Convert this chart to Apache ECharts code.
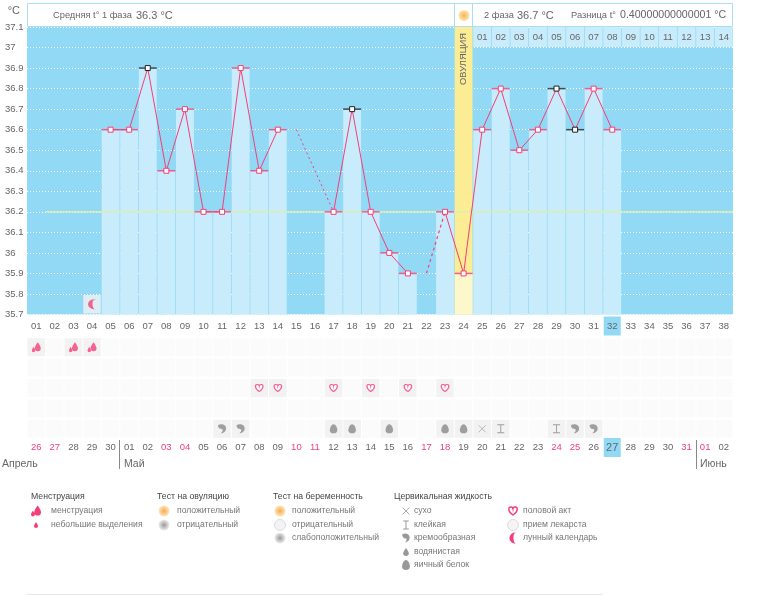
<!DOCTYPE html>
<html>
<head>
<meta charset="utf-8">
<style>
html, body { margin: 0; padding: 0; background: #fff; }
#chart { width: 770px; height: 595px; }
</style>
<script src="https://cdn.jsdelivr.net/npm/echarts@6/dist/echarts.min.js"></script>
</head>
<body>
<div id="chart"></div>
<script>
const FONT = '"Liberation Sans", sans-serif';
const SKY = '#92d9f6';
const BAR = '#c9ecfc';
const PINK = '#f43f76';
const DARK = '#222222';
const TXT = '#666666';

// cycle days
const days = ['01','02','03','04','05','06','07','08','09','10','11','12','13','14','15','16','17','18','19',
    '20','21','22','23','24','25','26','27','28','29','30','31','32','33','34','35','36','37','38'];
const temps = [null,null,null,null,36.6,36.6,36.9,36.4,36.7,36.2,36.2,36.9,36.4,36.6,null,null,36.2,36.7,36.2,
    36.0,35.9,null,36.2,35.9,36.6,36.8,36.5,36.6,36.8,36.6,36.8,36.6,null,null,null,null,null,null];
const blackDays = ['07','18','29','30'];
const missedA = [['15',36.6],['17',36.2]];
const missedB = [['22',35.9],['23',36.2]];
const coverLine = [[1,36.2],[38,36.2]];
const ovulationDay = '24';
const todayDay = '32';
const moonDay = '04';
const secondPhase = ['01','02','03','04','05','06','07','08','09','10','11','12','13','14'];

// calendar dates under the chart
const dates = ['26','27','28','29','30','01','02','03','04','05','06','07','08','09','10','11','12','13','14',
    '15','16','17','18','19','20','21','22','23','24','25','26','27','28','29','30','31','01','02'];
const redIdx = [0,1,7,8,14,15,21,22,28,29,35,36];

// event rows
const rows = ['mens','test','sex','pill','fluid'];
const mensDays = ['01','03','04'];
const sexDays = ['13','14','17','19','21','23'];
const creamDays = ['11','12','30','31'];
const eggDays = ['17','18','20','23','24'];
const dryDays = ['25'];
const stickyDays = ['26','29'];

const P = {
    mens: 'M15 1C15 1 8 10 8 15a7 7 0 0 0 14 0C22 10 15 1 15 1Z M5 12C5 12 1 17 1 20a4 4 0 0 0 8 0C9 17 5 12 5 12Z',
    drop: 'M12 2C12 2 4 12 4 17a8 8 0 0 0 16 0C20 12 12 2 12 2Z',
    heart: 'M12 21C12 21 2 14 2 8a5 5 0 0 1 10-2 5 5 0 0 1 10 2C22 14 12 21 12 21Z',
    cream: 'M4 4C10 0 22 2 22 12C22 19 16 23 10 24C14 20 15 17 14 14C9 15 3 11 4 4Z',
    egg: 'M12 1C7 1 3 10 3 16a9 8 0 0 0 18 0C21 10 17 1 12 1Z',
    dry: 'M3 3L21 21M21 3L3 21',
    sticky: 'M5 2H19M12 2V22M5 22H19',
    moon: 'M16 1A11.5 11.5 0 1 0 16 23A5 11.5 0 1 1 16 1Z'
};

const legendGroups = [
    { title: 'Менструация', x: 31, iconX: 36, textX: 51, items: [['менструация','mens'],['небольшие выделения','drop']] },
    { title: 'Тест на овуляцию', x: 157, iconX: 164, textX: 177, items: [['положительный','sun'],['отрицательный','grey']] },
    { title: 'Тест на беременность', x: 273, iconX: 280, textX: 292, items: [['положительный','sun'],['отрицательный','blank'],['слабоположительный','grey']] },
    { title: 'Цервикальная жидкость', x: 394, iconX: 406, textX: 414, items: [['сухо','dry'],['клейкая','sticky'],['кремообразная','cream'],['водянистая','drop2'],['яичный белок','egg']] },
    { title: '', x: 508, iconX: 513, textX: 523, items: [['половой акт','heart'],['прием лекарста','blank'],['лунный календарь','moon']] }
];
const legendRows = [511, 525, 538, 552, 565];

function rect(x, y, w, h, fill, stroke) {
    return { type: 'rect', shape: { x: x, y: y, width: w, height: h }, style: { fill: fill, stroke: stroke || null, lineWidth: 1 }, silent: true };
}
function text(t, x, y, size, color, extra) {
    return Object.assign({ type: 'text', silent: true, style: { text: t, x: x, y: y, font: size + 'px ' + FONT, fill: color, verticalAlign: 'middle' } }, extra || {});
}
function line(x1, y1, x2, y2, color) {
    return { type: 'line', shape: { x1: x1, y1: y1, x2: x2, y2: y2 }, style: { stroke: color, lineWidth: 1 }, silent: true };
}
function sunFill(c1, c2) {
    return new echarts.graphic.RadialGradient(0.5, 0.5, 0.5, [{ offset: 0, color: c1 }, { offset: 1, color: c2 }]);
}

// legend icons
function legendIcon(kind, x, y) {
    const path = (d, w, h, style) => ({ type: 'path', shape: { pathData: d, x: x - w / 2, y: y - h / 2, width: w, height: h }, style: style });
    if (kind === 'mens') return path(P.mens, 10, 11, { fill: PINK });
    if (kind === 'drop') return path(P.drop, 4, 6, { fill: PINK });
    if (kind === 'drop2') return path(P.drop, 6, 8, { fill: '#999' });
    if (kind === 'heart') return path(P.heart, 9, 8, { fill: '#fff', stroke: PINK, lineWidth: 1.5 });
    if (kind === 'cream') return path(P.cream, 8, 9, { fill: '#999' });
    if (kind === 'egg') return path(P.egg, 8, 10, { fill: '#999' });
    if (kind === 'dry') return path(P.dry, 7, 7, { fill: 'none', stroke: '#aaa', lineWidth: 1 });
    if (kind === 'sticky') return path(P.sticky, 7, 8, { fill: 'none', stroke: '#999', lineWidth: 1 });
    if (kind === 'moon') return path(P.moon, 9, 11, { fill: PINK });
    if (kind === 'sun') return { type: 'circle', shape: { cx: x, cy: y, r: 5.5 }, style: { fill: sunFill('#f8a94e', '#fde9bd') } };
    if (kind === 'grey') return { type: 'circle', shape: { cx: x, cy: y, r: 5.5 }, style: { fill: sunFill('#999999', '#eeeeee') } };
    return { type: 'circle', shape: { cx: x, cy: y, r: 5.5 }, style: { fill: '#f4f4f4', stroke: '#ddd', lineWidth: 1 } };
}
const legendEls = [];
legendGroups.forEach(g => {
    if (g.title) legendEls.push(text(g.title, g.x, 497, 8.7, '#444'));
    g.items.forEach((it, i) => {
        legendEls.push(legendIcon(it[1], g.iconX, legendRows[i]));
        legendEls.push(text(it[0], g.textX, legendRows[i], 8.6, '#777'));
    });
});

const headerEls = [
    rect(27.5, 3.5, 705, 23, '#fff', '#a9dff5'),
    line(454.5, 3, 454.5, 26, '#a9dff5'),
    line(472.5, 3, 472.5, 26, '#a9dff5'),
    { type: 'circle', silent: true, shape: { cx: 464, cy: 15.5, r: 5.5 }, style: { fill: sunFill('#f8b45a', '#fbe7b0') } },
    text('Средняя t° 1 фаза', 53, 15.5, 9.3, TXT),
    text('36.3 °C', 136, 15.5, 11, TXT),
    text('2 фаза', 484, 15.5, 9.3, TXT),
    text('36.7 °C', 517, 15.5, 11, TXT),
    text('Разница t°', 571, 15.5, 9.3, TXT),
    text('0.40000000000001 °C', 620, 15.5, 10.6, TXT),
    { type: 'text', silent: true, x: 463.5, y: 59, rotation: Math.PI / 2, z: 20,
      style: { text: 'ОВУЛЯЦИЯ', font: '9.3px ' + FONT, fill: '#666', align: 'center', verticalAlign: 'middle' } },
    text('Апрель', 2, 464, 10.5, TXT),
    text('Май', 124, 464, 10.5, TXT),
    text('Июнь', 700, 464, 10.5, TXT),
    line(119.5, 440, 119.5, 469, '#888'),
    line(696.5, 440, 696.5, 469, '#888'),
    line(27, 594.5, 603, 594.5, '#e6e6e6')
];

const bigCells = [];
days.forEach(d => rows.forEach(r => bigCells.push([d, r])));
const rowPoints = (list, row) => list.map(d => [d, row]);
const activeCells = rowPoints(mensDays, 'mens').concat(rowPoints(sexDays, 'sex'),
    rowPoints(creamDays, 'fluid'), rowPoints(eggDays, 'fluid'), rowPoints(dryDays, 'fluid'), rowPoints(stickyDays, 'fluid'));

const isBlack = i => blackDays.indexOf(days[i]) >= 0;

function iconSeries(name, data, symbol, size, style) {
    return { name: name, type: 'scatter', xAxisIndex: 3, yAxisIndex: 3, symbol: 'path://' + symbol, symbolSize: size,
        data: data, itemStyle: style, z: 5, silent: true };
}

const chart = echarts.init(document.getElementById('chart'));
chart.setOption({
    animation: false,
    backgroundColor: '#fff',
    textStyle: { fontFamily: FONT },
    grid: [
        { left: 27, top: 27, width: 706, height: 287.5, show: true, backgroundColor: SKY, borderWidth: 0 },
        { left: 27, top: 27, width: 706, height: 20 },
        { left: 27, top: 337, width: 706, height: 102 }
    ],
    xAxis: [
        {
            type: 'category', data: days, gridIndex: 0,
            axisLine: { show: false }, axisTick: { show: false },
            axisLabel: {
                interval: 0, margin: 2, color: TXT, fontSize: 9.5,
                formatter: v => v === todayDay ? '{today|' + v + '}' : '{day|' + v + '}',
                rich: {
                    day: { lineHeight: 19, fontSize: 9.5, color: TXT },
                    today: { lineHeight: 19, height: 19, width: 17, align: 'center', fontSize: 9.5, color: TXT, backgroundColor: SKY }
                }
            }
        },
        // hidden numeric axis for the cover line
        { type: 'value', gridIndex: 0, min: 0, max: 38, show: false },
        { type: 'category', data: days, gridIndex: 1, show: false },
        {
            type: 'category', data: days, gridIndex: 2,
            axisLine: { show: false }, axisTick: { show: false },
            axisLabel: {
                interval: 0, margin: -1, fontSize: 9.5,
                formatter: (v, i) => {
                    if (days[i] === todayDay) return '{today|' + dates[i] + '}';
                    return (redIdx.indexOf(i) >= 0 ? '{red|' : '{day|') + dates[i] + '}';
                },
                rich: {
                    day: { lineHeight: 14, padding: [4, 0, 0, 0], fontSize: 9.5, color: TXT },
                    red: { lineHeight: 14, padding: [4, 0, 0, 0], fontSize: 9.5, color: PINK },
                    today: { lineHeight: 19, height: 19, width: 17, align: 'center', fontSize: 11, color: TXT, backgroundColor: SKY }
                }
            }
        }
    ],
    yAxis: [
        {
            type: 'value', gridIndex: 0, min: 35.7, max: 37.1, interval: 0.1,
            name: '°C', nameLocation: 'end', nameGap: 11,
            nameTextStyle: { align: 'right', padding: [0, 7, 0, 0], color: TXT, fontSize: 11 },
            axisLine: { show: false }, axisTick: { show: false },
            axisLabel: { align: 'left', margin: 22, color: TXT, fontSize: 9.5, padding: [4, 0, 0, 0], formatter: v => String(+v.toFixed(1)) },
            splitLine: { show: true, lineStyle: { color: '#fff', type: [1, 2], width: 1 } }
        },
        { type: 'value', gridIndex: 0, min: 35.7, max: 37.1, show: false },
        { type: 'value', gridIndex: 1, min: 0, max: 1, show: false },
        { type: 'category', data: rows, inverse: true, gridIndex: 2, show: false }
    ],
    graphic: { elements: headerEls },
    series: [
        {
            name: 'ovulation', type: 'bar', xAxisIndex: 0, yAxisIndex: 0, barGap: '-100%', barCategoryGap: '4%', z: 2, silent: true,
            data: days.map(d => d === ovulationDay ? 37.1 : null),
            itemStyle: { color: '#fcec94' }
        },
        {
            name: 'bars', type: 'bar', xAxisIndex: 0, yAxisIndex: 0, z: 3, silent: true,
            data: temps.map((t, i) => days[i] === ovulationDay
                ? { value: t, itemStyle: { color: '#fdf7cc' } } : t),
            itemStyle: { color: BAR }
        },
        {
            name: 'second phase', type: 'bar', xAxisIndex: 2, yAxisIndex: 2, barCategoryGap: '4%', z: 3, silent: true,
            data: days.map((d, i) => i >= 24 ? { value: 1, label: { formatter: secondPhase[i - 24] } } : null),
            itemStyle: { color: BAR },
            label: { show: true, position: 'inside', color: TXT, fontSize: 9.5, padding: [3, 0, 0, 0] }
        },
        {
            name: 'cover', type: 'line', xAxisIndex: 1, yAxisIndex: 1, data: coverLine, symbol: 'none', z: 4, silent: true,
            lineStyle: { color: '#dcedb0', width: 1.5 }
        },
        {
            name: 'caps', type: 'scatter', xAxisIndex: 0, yAxisIndex: 0, symbol: 'rect', symbolSize: [18, 1.5], z: 5, silent: true,
            data: temps.map((t, i) => ({ value: t, itemStyle: { color: isBlack(i) ? DARK : PINK } }))
        },
        {
            name: 'temp', type: 'line', xAxisIndex: 0, yAxisIndex: 0, z: 6, silent: true,
            data: temps.map((t, i) => ({ value: t, itemStyle: { color: '#fff', borderWidth: 1, borderColor: isBlack(i) ? DARK : PINK } })),
            symbol: 'rect', symbolSize: 5, showAllSymbol: true, connectNulls: false,
            lineStyle: { color: PINK, width: 1 }
        },
        { name: 'missed a', type: 'line', xAxisIndex: 0, yAxisIndex: 0, data: missedA, symbol: 'none', z: 5, silent: true, lineStyle: { color: PINK, width: 1, type: [2, 3] } },
        { name: 'missed b', type: 'line', xAxisIndex: 0, yAxisIndex: 0, data: missedB, symbol: 'none', z: 5, silent: true, lineStyle: { color: PINK, width: 1.2, type: [3, 3] } },
        {
            name: 'moon cell', type: 'scatter', xAxisIndex: 0, yAxisIndex: 0, symbol: 'rect', symbolSize: [17.5, 18.5], z: 5, silent: true,
            data: [[moonDay, 35.75]], itemStyle: { color: '#f2f2f2' }
        },
        {
            name: 'moon', type: 'scatter', xAxisIndex: 0, yAxisIndex: 0, symbol: 'path://' + P.moon, symbolSize: [8, 10], z: 6, silent: true,
            data: [[moonDay, 35.75]], itemStyle: { color: PINK }
        },
        { name: 'empty cells', type: 'scatter', xAxisIndex: 3, yAxisIndex: 3, symbol: 'rect', symbolSize: [17.5, 18], data: bigCells, itemStyle: { color: '#fafafa' }, z: 2, silent: true },
        { name: 'active cells', type: 'scatter', xAxisIndex: 3, yAxisIndex: 3, symbol: 'rect', symbolSize: [17.5, 18], data: activeCells, itemStyle: { color: '#f0f0f0' }, z: 3, silent: true },
        iconSeries('mens', rowPoints(mensDays, 'mens'), P.mens, [9, 10], { color: PINK }),
        iconSeries('sex', rowPoints(sexDays, 'sex'), P.heart, [7.5, 7], { color: '#fff', borderColor: PINK, borderWidth: 1.2 }),
        iconSeries('cream', rowPoints(creamDays, 'fluid'), P.cream, [8, 9], { color: '#888' }),
        iconSeries('egg', rowPoints(eggDays, 'fluid'), P.egg, [7.5, 9], { color: '#888' }),
        iconSeries('dry', rowPoints(dryDays, 'fluid'), P.dry, [7, 7], { color: 'none', borderColor: '#aaa', borderWidth: 1 }),
        iconSeries('sticky', rowPoints(stickyDays, 'fluid'), P.sticky, [7, 8], { color: 'none', borderColor: '#888', borderWidth: 1 }),
        {
            name: 'legend', type: 'custom', coordinateSystem: 'none', data: [0], silent: true,
            renderItem: () => ({ type: 'group', children: legendEls })
        }
    ]
});
</script>
</body>
</html>
